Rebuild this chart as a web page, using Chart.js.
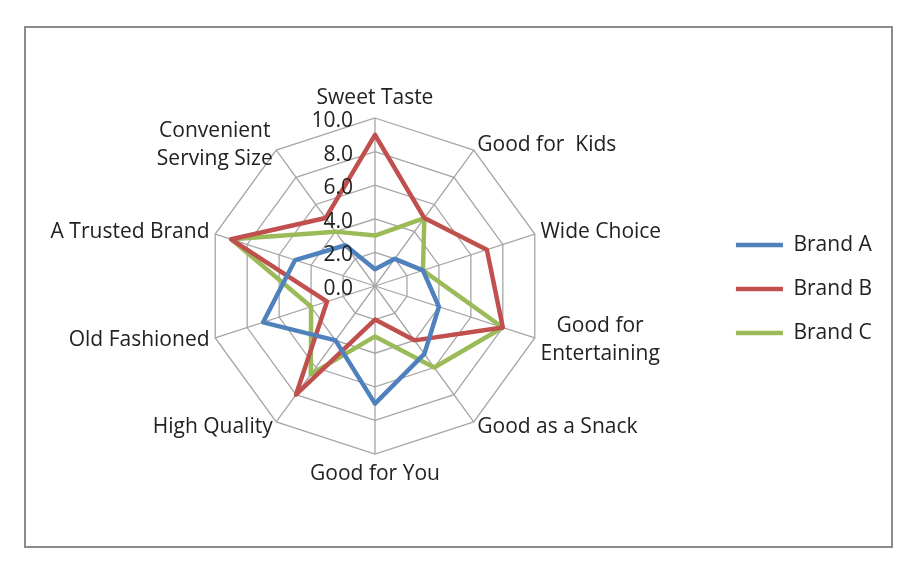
<!DOCTYPE html>
<html>
<head>
<meta charset="utf-8">
<script src="https://cdn.jsdelivr.net/npm/chart.js@4.4.1/dist/chart.umd.min.js"></script>
<style>
  html, body { margin: 0; padding: 0; background: #fff; }
  body { width: 916px; height: 573px; position: relative; overflow: hidden; }
  #frame { position: absolute; left: 24px; top: 26px; width: 865px; height: 518px; border: 2px solid #8c8c8c; }
  #wrap { position: absolute; left: 0; top: 0; width: 916px; height: 573px; }
</style>
</head>
<body>
<div id="frame"></div>
<div id="wrap"><canvas id="radarChart"></canvas></div>
<script>
// data
const categories = ["Sweet Taste", "Good for  Kids", "Wide Choice", ["Good for", "Entertaining"], "Good as a Snack",
  "Good for You", "High Quality", "Old Fashioned", "A Trusted Brand", ["Convenient", "Serving Size"]];
const brandA = [1, 2, 3, 4, 5, 7, 4, 7, 5, 3];
const brandB = [9, 5, 7, 8, 4, 2, 8, 3, 9, 5];
const brandC = [3, 5, 3, 8, 6, 3, 6.5, 4, 9, 4];
const tickLabels = ["0.0", "2.0", "4.0", "6.0", "8.0", "10.0"];

const FONT = "'Open Sans'";
const FONT_SIZE = 21;
const TEXT_COLOR = "#222222";

// point labels + tick labels drawn Excel style (ticks beside the top axis)
const radarText = {
  id: "radarText",
  afterDatasetsDraw(chart) {
    const r = chart.scales.r;
    const ctx = chart.ctx;
    const n = chart.data.labels.length;
    const lh = 28;
    ctx.save();
    ctx.font = FONT_SIZE + "px " + FONT;
    ctx.fillStyle = TEXT_COLOR;

    ctx.textAlign = "right";
    ctx.textBaseline = "middle";
    r.ticks.forEach((t, i) => {
      const y = r.yCenter - r.getDistanceFromCenterForValue(t.value);
      ctx.fillText(tickLabels[i], r.xCenter - 22, y + 3);
    });

    ctx.textAlign = "center";
    chart.data.labels.forEach((lab, i) => {
      const lines = [].concat(lab);
      const p = r.getPointPosition(i, r.drawingArea + 6);
      const deg = i * 360 / n;
      const w = Math.max(...lines.map(l => ctx.measureText(l).width));
      let cx = p.x, cy = p.y;
      if (deg > 0 && deg < 180) cx = p.x + w / 2;
      else if (deg > 180) cx = p.x - w / 2;
      if (deg === 0) cy = p.y - 14;
      if (deg === 180) cy = p.y + 14;
      lines.forEach((l, k) => {
        ctx.fillText(l, cx, cy - (lines.length - 1) * lh / 2 + k * lh);
      });
    });
    ctx.restore();
  }
};

new Chart(document.getElementById("radarChart"), {
  type: "radar",
  data: {
    labels: categories,
    datasets: [
      { label: "Brand A", data: brandA, borderColor: "#4F81BD", backgroundColor: "#4F81BD", borderWidth: 4.5 },
      { label: "Brand B", data: brandB, borderColor: "#C0504D", backgroundColor: "#C0504D", borderWidth: 4.5 },
      { label: "Brand C", data: brandC, borderColor: "#9BBB59", backgroundColor: "#9BBB59", borderWidth: 4.5 }
    ]
  },
  options: {
    responsive: true,
    maintainAspectRatio: false,
    animation: false,
    layout: { padding: { left: 38, right: 34, top: 118, bottom: 119 } },
    elements: {
      line: { fill: false, tension: 0, borderJoinStyle: "round" },
      point: { radius: 0, hoverRadius: 0 }
    },
    scales: {
      r: {
        min: 0,
        max: 10,
        ticks: { stepSize: 2, display: false },
        pointLabels: { display: false },
        grid: { color: "#a6a6a6", lineWidth: 1.3 },
        angleLines: { color: "#a6a6a6", lineWidth: 1.3 }
      }
    },
    plugins: {
      legend: {
        position: "right",
        // empty title only nudges the entries down a few px
        title: { display: true, text: "", font: { size: 5 }, padding: 0 },
        labels: {
          usePointStyle: true,
          pointStyle: "line",
          pointStyleWidth: 47,
          padding: 23,
          color: TEXT_COLOR,
          font: { family: FONT, size: FONT_SIZE }
        }
      },
      tooltip: { enabled: false }
    }
  },
  plugins: [radarText]
});
</script>
</body>
</html>
